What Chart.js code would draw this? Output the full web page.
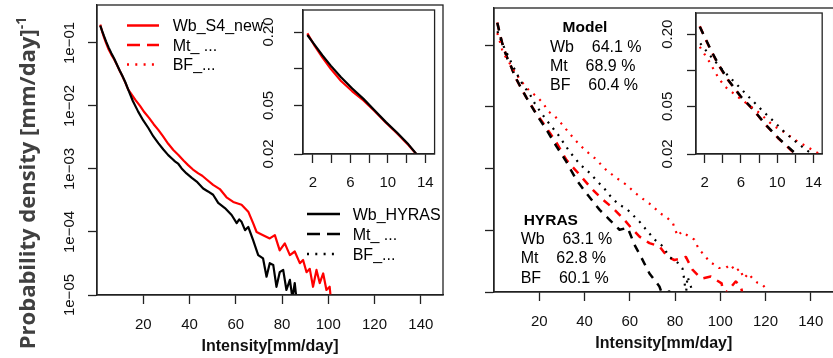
<!DOCTYPE html>
<html><head><meta charset="utf-8">
<script src="https://cdn.jsdelivr.net/npm/chart.js@4.4.1/dist/chart.umd.min.js"></script>
<style>
html,body{margin:0;padding:0;width:833px;height:358px;overflow:hidden;background:#fff;position:relative;}
canvas{position:absolute;}
.t{position:absolute;font-family:"Liberation Sans",Arial,Helvetica,sans-serif;color:#000;white-space:pre;line-height:1;}
#ytitle{position:absolute;left:25px;top:183px;transform:translate(-50%,-50%) rotate(-90deg);font-family:"Open Sans",sans-serif;font-weight:700;font-size:22px;color:#404040;white-space:nowrap;line-height:1;}
#ytitle sup{font-size:14px;vertical-align:9px;}
</style></head><body>
<canvas id="mainL" width="446" height="358" style="left:0;top:0"></canvas>
<canvas id="insetL" width="190" height="200" style="left:255px;top:0"></canvas>
<canvas id="mainR" width="355" height="358" style="left:480px;top:0"></canvas>
<canvas id="insetR" width="183" height="200" style="left:650px;top:0"></canvas>
<svg id="leg" width="833" height="358" style="position:absolute;left:0;top:0"></svg>
<div id="ytitle">Probability density [mm/day]<sup>-1</sup></div>
<script>
// ---------- data ----------
const wbModelX = [1.4,2.2,3.0,3.9,5.0,6.2,7.4,8.6,9.8,11.0,12.2,13.5,14.8,16.5,18.6,20.5,22.5,24.5,26.5,28.5,30.8,33,35.1,37.5,39.4,41.5,43.8,45.5,47.4,50.2,53.1,56,58.9,62.5,65.4,67.5,69,71.8,74.7,76.9,79,81.2,83.4,85.5,87.7,89.1,90.6,92,93.4,94.9,96.3,97.8,99.2,100.6,101.2];
const wbModelY = [0.195,0.153,0.124,0.100,0.0794,0.0653,0.0550,0.0449,0.0361,0.0295,0.0237,0.0182,0.0155,0.0126,0.0100,0.00794,0.00646,0.00513,0.00417,0.00331,0.00251,0.00200,0.00168,0.00135,0.00115,0.00098,8.5e-4,7.8e-4,6.8e-4,5.6e-4,4.8e-4,3.55e-4,3.0e-4,2.7e-4,2.1e-4,1.38e-4,1.0e-4,8.9e-5,7.9e-5,8.9e-5,5.1e-5,6.6e-5,4.3e-5,4.9e-5,3.2e-5,3.6e-5,2.3e-5,2.6e-5,1.35e-5,2.5e-5,1.55e-5,2.2e-5,1.2e-5,1.35e-5,8e-6];
const wbHyrasX = [1.4,2.2,3.0,3.9,5.0,6.2,7.4,8.6,9.8,11.0,12.2,13.5,15.5,17.8,20,22.2,24.3,26.5,28.7,30.8,32.5,33.7,35.2,36.6,38.7,41,43.1,45.9,48,50.2,52.4,55.3,58.2,60.4,61.5,62.5,64,65.4,67.5,69.7,71.8,73.3,74.7,76.2,77.6,79,80.5,81.9,83.4,84.5,85.5,86.2];
const wbHyrasY = [0.189,0.156,0.129,0.106,0.0851,0.0689,0.0566,0.0455,0.0365,0.0299,0.0240,0.0182,0.0120,0.00813,0.00589,0.00447,0.00331,0.00257,0.00204,0.00166,0.00145,0.00132,0.00120,0.00102,8.5e-4,7.2e-4,6.3e-4,4.9e-4,4.4e-4,3.9e-4,2.9e-4,2.4e-4,1.86e-4,1.38e-4,1.58e-4,1.45e-4,1.07e-4,1.2e-4,7.4e-5,4.3e-5,3.8e-5,1.95e-5,3.2e-5,3.0e-5,1.35e-5,2.3e-5,2.5e-5,1.2e-5,1.74e-5,8.9e-6,1.55e-5,8.9e-6];
const mtHyrasX = [1.45,1.97,2.67,3.54,4.59,5.98,7.38,8.77,10.17,11.57,14.4,18.8,23.2,27.6,31.5,36.4,40.8,46.7,51.1,55.5,59.1,62.1,65,68.7,73.1,74.5,77.5,78.5];
const mtHyrasY = [0.231,0.191,0.148,0.111,0.0830,0.0603,0.0467,0.0349,0.0270,0.0216,0.0140,0.0075,0.00427,0.00229,0.00138,6.6e-4,4.0e-4,2.14e-4,1.48e-4,1.02e-4,1.10e-4,5.8e-5,3.7e-5,2.0e-5,1.23e-5,8.9e-6,1.02e-5,8.9e-6];
const mtModelX = [1.45,1.97,2.67,3.54,4.59,5.98,7.38,8.77,10.17,11.57,14.4,18.8,23.2,27.6,32,37.9,43,47.4,52.5,56.9,60.6,64.3,68.7,73.1,76.7,79.7,83.3,84.8,87.7,90.7,92.2,95.8,98,100.6,101.5,104,106.8,109,110];
const mtModelY = [0.233,0.190,0.147,0.110,0.0825,0.0600,0.0465,0.0348,0.0268,0.0214,0.0140,0.0077,0.00457,0.00263,0.00138,7.9e-4,4.8e-4,3.3e-4,2.3e-4,1.58e-4,1.10e-4,7.9e-5,6.2e-5,5.5e-5,3.7e-5,3.3e-5,3.5e-5,3.7e-5,2.3e-5,1.78e-5,1.66e-5,1.78e-5,1.58e-5,1.38e-5,8.9e-6,1.12e-5,1.48e-5,1.26e-5,8.9e-6];
const bfHyrasX = [1.5,2.5,3.9,5.3,6.7,8.4,9.8,11.0,12.3,13.3,15.9,18.1,20.5,23.5,28.3,33.5,38,42.3,46,48.1,52.5,55.5,59.1,64.3,68,70.9,74.6,77.5,81.1,83.3,84.1,84.8,85.5,87,88];
const bfHyrasY = [0.168,0.135,0.102,0.0794,0.0617,0.0457,0.0363,0.0295,0.0245,0.0214,0.0158,0.0112,0.00832,0.00589,0.00355,0.00186,0.00117,8.5e-4,6.0e-4,5.1e-4,3.2e-4,2.6e-4,2.14e-4,1.38e-4,9.5e-5,7.1e-5,5.5e-5,3.7e-5,3.0e-5,2.4e-5,1.58e-5,8.9e-6,1.78e-5,1.23e-5,8.9e-6];
const bfModelX = [1.45,2.5,3.54,4.24,5.63,6.86,8.07,9.48,10.69,12.26,13.3,14.2,15.9,18.8,21.7,23.9,26.9,30,32,35.7,38,40.8,44.5,49.6,54,58.4,62.5,67.2,70,73.1,76,79,81.1,83,86.3,88.5,90.7,93,95.1,97.3,99.5,102.4,104.5,106.8,108.5,110.5,112.5,114.2,116.5,118.6,120.8,121.5];
const bfModelY = [0.157,0.118,0.0857,0.0729,0.0603,0.0513,0.0438,0.0349,0.0307,0.0254,0.0230,0.0209,0.0178,0.0148,0.0115,0.00851,0.00708,0.00525,0.00427,0.00295,0.00240,0.00191,0.00148,9.5e-4,7.1e-4,5.5e-4,4.0e-4,2.95e-4,2.5e-4,1.91e-4,1.66e-4,1.32e-4,8.1e-5,9.5e-5,7.9e-5,7.1e-5,4.8e-5,4.0e-5,3.1e-5,2.8e-5,2.45e-5,2.45e-5,2.8e-5,2.14e-5,2.4e-5,1.66e-5,2.0e-5,1.66e-5,1.41e-5,1.32e-5,1.07e-5,8.9e-6];

const mainXTicks = [20,40,60,80,100,120,140];
const mainXLabels = ['20','40','60','80','100','120','140'];
const mainYTicks = [1e-5,1e-4,1e-3,1e-2,1e-1];
const mainYLabels = ['1e\u221205','1e\u221204','1e\u221203','1e\u221202','1e\u221201'];
const insetXTicks = [2,4,6,8,10,12,14];
const insetXLabels = ['2','','6','','10','','14'];
const insetYTicks = [0.02,0.05,0.1,0.2];
const insetYLabels = ['0.02','0.05','','0.20'];

const legendModel = ['Wb_S4_new','Mt_ ...','BF_...'];
const legendHyras = ['Wb_HYRAS','Mt_ ...','BF_...'];
const shareNames = ['Wb','Mt','BF'];
const modelShares = [64.1,68.9,60.4];
const hyrasShares = [63.1,62.8,60.1];
const xTitle = 'Intensity[mm/day]';

// ---------- helpers ----------
const FONT = '"Liberation Sans", Arial, Helvetica, sans-serif';
const RED = '#ff0000', BLK = '#000000';
const SOLID = [], DASH = [8,7], DOT = [2,6];
function pts(xs, ys){ return xs.map((x,i)=>({x:x, y:ys[i]})); }
function ds(xs, ys, color, dash, w){
  return {data:pts(xs,ys), borderColor:color, borderWidth:w, borderDash:dash, pointRadius:0, fill:false, tension:0, clip:0, borderJoinStyle:'round', borderCapStyle:'butt'};
}
function boxPlugin(cfg){
  return {
    id:'rbox',
    beforeDraw(chart){
      if(!cfg.fill) return;
      const a=chart.chartArea, c=chart.ctx;
      c.save(); c.fillStyle=cfg.fill; c.fillRect(a.left,a.top,a.right-a.left,a.bottom-a.top); c.restore();
    },
    afterDraw(chart){
      const a=chart.chartArea, c=chart.ctx, s=chart.scales.y;
      c.save();
      c.strokeStyle='#222'; c.lineWidth=1.3;
      c.strokeRect(a.left,a.top,a.right-a.left,a.bottom-a.top);
      if(cfg.yLabels){
        c.fillStyle='#111'; c.font='15px '+FONT; c.textAlign='center'; c.textBaseline='middle';
        cfg.yTicks.forEach((v,i)=>{
          const lab=cfg.yLabels[i]; if(!lab) return;
          const y=s.getPixelForValue(v);
          c.save(); c.translate(a.left+cfg.dx,y); c.rotate(-Math.PI/2); c.fillText(lab,0,0); c.restore();
        });
      }
      c.restore();
    }
  };
}
function build(id, o){
  return new Chart(document.getElementById(id), {
    type:'line',
    data:{datasets:o.datasets},
    options:{
      responsive:false, animation:false, devicePixelRatio:1, events:[],
      layout:{padding:o.pad},
      plugins:{legend:{display:false}, tooltip:{enabled:false}},
      scales:{
        x:{type:'linear', min:o.xMin, max:o.xMax,
           afterBuildTicks:(s)=>{ s.ticks = o.xTicks.map(v=>({value:v})); },
           afterFit:(s)=>{ s.height = o.xAxisH; },
           ticks:{autoSkip:false, minRotation:0, maxRotation:0, padding:o.xLabPad, color:'#111', font:{family:FONT,size:15}, callback:(v,i)=>o.xLabels[i]},
           grid:{drawOnChartArea:false, drawTicks:true, tickLength:9, tickColor:'#222', tickWidth:1.3},
           border:{display:true, color:'#222', width:1.3},
           title: o.title ? {display:true, text:o.title, color:'#111', font:{family:FONT,size:16,weight:'bold'}, padding:{top:0,bottom:o.titlePadB}} : {display:false}
        },
        y:{type:'logarithmic', min:o.yMin, max:o.yMax,
           afterBuildTicks:(s)=>{ s.ticks = o.yTicks.map(v=>({value:v})); },
           afterFit:(s)=>{ s.width = 9; },
           ticks:{display:false},
           grid:{drawOnChartArea:false, drawTicks:true, tickLength:9, tickColor:'#222', tickWidth:1.3},
           border:{display:true, color:'#222', width:1.3}
        }
      }
    },
    plugins:[boxPlugin({fill:o.fill, yTicks:o.yTicks, yLabels:o.yLabels, dx:o.dx})]
  });
}

const leftSets = () => [ds(wbHyrasX,wbHyrasY,BLK,SOLID,2.2), ds(wbModelX,wbModelY,RED,SOLID,2.2)];
const rightSets = () => [
  ds(bfHyrasX,bfHyrasY,BLK,DOT,2.2), ds(bfModelX,bfModelY,RED,DOT,2.2),
  ds(mtHyrasX,mtHyrasY,BLK,DASH,2.5), ds(mtModelX,mtModelY,RED,DASH,2.5)];

build('mainL',{datasets:leftSets(), pad:{left:88,top:5,right:3,bottom:0}, xMin:0, xMax:149.6, yMin:1e-5, yMax:0.4,
  xTicks:mainXTicks, xLabels:mainXLabels, yTicks:mainYTicks, yLabels:mainYLabels, dx:-27,
  xAxisH:63, xLabPad:12, title:xTitle, titlePadB:1.4});
build('insetL',{datasets:leftSets(), pad:{left:39,top:10,right:6,bottom:0}, xMin:0.935, xMax:15.0, yMin:0.02, yMax:0.303,
  xTicks:insetXTicks, xLabels:insetXLabels, yTicks:insetYTicks, yLabels:insetYLabels, dx:-34,
  xAxisH:46, xLabPad:11, title:null, fill:'#fff'});
build('mainR',{datasets:rightSets(), pad:{left:5,top:8,right:0,bottom:0}, xMin:0, xMax:150.1, yMin:1e-5, yMax:0.4,
  xTicks:mainXTicks, xLabels:mainXLabels, yTicks:mainYTicks, yLabels:null, dx:0,
  xAxisH:66, xLabPad:11.7, title:xTitle, titlePadB:4.7});
build('insetR',{datasets:rightSets(), pad:{left:37,top:13,right:3.7,bottom:0}, xMin:1.03, xMax:14.97, yMin:0.02, yMax:0.301,
  xTicks:insetXTicks, xLabels:insetXLabels, yTicks:insetYTicks, yLabels:insetYLabels, dx:-28.5,
  xAxisH:46, xLabPad:11, title:null, fill:'#fff'});

// ---------- legends & annotations (text) ----------
function place(text, x, capMid, size, bold, center){
  const d=document.createElement('div'); d.className='t'; d.textContent=text;
  d.style.fontSize=size+'px'; if(bold) d.style.fontWeight='bold';
  d.style.left=x+'px'; d.style.top=(capMid-0.4885*size)+'px';
  if(center) d.style.transform='translateX(-50%)';
  document.body.appendChild(d);
}
const svg=document.getElementById('leg');
function seg(x1,x2,y,color,dash){
  const l=document.createElementNS('http://www.w3.org/2000/svg','line');
  l.setAttribute('x1',x1); l.setAttribute('x2',x2); l.setAttribute('y1',y); l.setAttribute('y2',y);
  l.setAttribute('stroke',color); l.setAttribute('stroke-width',2.5);
  if(dash) l.setAttribute('stroke-dasharray',dash);
  svg.appendChild(l);
}
const legDash=['','13,7','2,6.3'];
const leg1Y=[25.5,45,64.5], leg2Y=[214,234,254];
legendModel.forEach((t,i)=>{ seg(127,159,leg1Y[i],RED,legDash[i]); place(t,172.7,leg1Y[i]+0.5,16,false,false); });
legendHyras.forEach((t,i)=>{ seg(307,340,leg2Y[i],BLK,legDash[i]); place(t,352.7,leg2Y[i]+0.5,16,false,false); });

place('Model',585,27,15.5,true,true);
const mRows=[46.7,65.8,84.8];
shareNames.forEach((n,i)=>place(n+'    '+modelShares[i].toFixed(1)+' %',550,mRows[i],16,false,false));
place('HYRAS',550.8,219.5,15.5,true,true);
const hRows=[239.2,257.8,277.5];
shareNames.forEach((n,i)=>place(n+'    '+hyrasShares[i].toFixed(1)+' %',520.7,hRows[i],16,false,false));
</script>
</body></html>
